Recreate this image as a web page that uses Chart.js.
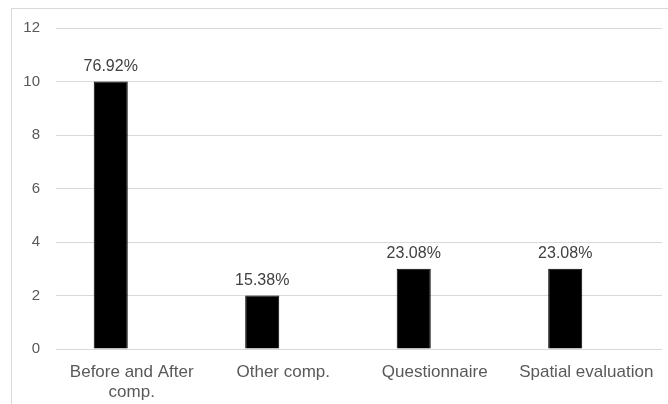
<!DOCTYPE html>
<html>
<head>
<meta charset="utf-8">
<script src="https://cdn.jsdelivr.net/npm/chart.js@4"></script>
<style>
html, body { margin: 0; padding: 0; background: #fff; }
#wrap { width: 668px; height: 404px; position: relative; }
</style>
</head>
<body>
<div id="wrap"><canvas id="chart" width="668" height="404"></canvas></div>
<script>
const categories = [["Before and After", "comp."], "Other comp.", "Questionnaire", "Spatial evaluation"];
const counts = [10, 2, 3, 3];
const emptySeries = [null, null, null, null];
const shareLabels = ["76.92%", "15.38%", "23.08%", "23.08%"];
const yTicks = { min: 0, max: 12, step: 2 };

const textGray = '#595959';
const gridGray = '#d9d9d9';
const fontFamily = '"Liberation Sans", Arial, sans-serif';

// light frame around the chart, cut off at the right and bottom like the source image
const framePlugin = {
  id: 'frame',
  beforeDraw(chart) {
    const c = chart.ctx;
    c.save();
    c.fillStyle = '#fff';
    c.fillRect(0, 0, chart.width, chart.height);
    c.strokeStyle = gridGray;
    c.lineWidth = 1;
    c.strokeRect(11.5, 8.5, chart.width + 20, chart.height + 20);
    c.restore();
  }
};

const shareLabelPlugin = {
  id: 'shareLabels',
  afterDatasetsDraw(chart) {
    const c = chart.ctx;
    const meta = chart.getDatasetMeta(0);
    c.save();
    c.font = '16px ' + fontFamily;
    c.fillStyle = '#404040';
    c.textAlign = 'center';
    c.textBaseline = 'bottom';
    meta.data.forEach((bar, i) => {
      c.fillText(shareLabels[i], bar.x, bar.y - 7);
    });
    c.restore();
  }
};

const ctx = document.getElementById('chart').getContext('2d');
const chart = new Chart(ctx, {
  type: 'bar',
  data: {
    labels: categories,
    datasets: [
      {
        label: 'Count',
        data: counts,
        backgroundColor: '#000',
        borderColor: '#000',
        borderWidth: 1,
        barPercentage: 0.81,
        categoryPercentage: 0.555
      },
      {
        label: 'Empty',
        data: emptySeries,
        backgroundColor: 'transparent',
        barPercentage: 0.81,
        categoryPercentage: 0.555
      }
    ]
  },
  options: {
    responsive: false,
    animation: false,
    layout: { padding: { left: 0, right: 6, top: 28, bottom: 0 } },
    scales: {
      x: {
        grid: { display: false },
        border: { display: false },
        ticks: {
          color: textGray,
          font: { family: fontFamily, size: 17, lineHeight: 1.2 },
          padding: 5,
          maxRotation: 0,
          autoSkip: false
        },
        afterFit(scale) { scale.height = 55; }
      },
      y: {
        min: yTicks.min,
        max: yTicks.max,
        grid: { color: gridGray, drawTicks: false },
        border: { display: false },
        ticks: {
          stepSize: yTicks.step,
          color: textGray,
          font: { family: fontFamily, size: 15 },
          padding: 16
        },
        afterFit(scale) { scale.width = 56; }
      }
    },
    plugins: {
      legend: { display: false },
      tooltip: { enabled: false }
    }
  },
  plugins: [framePlugin, shareLabelPlugin]
});
</script>
</body>
</html>
